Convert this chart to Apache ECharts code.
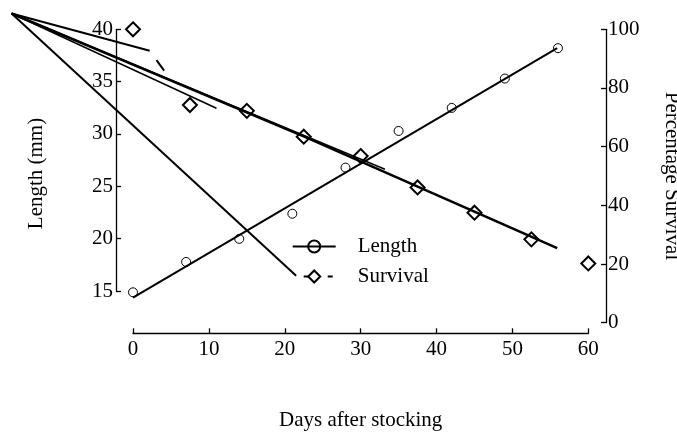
<!DOCTYPE html>
<html>
<head>
<meta charset="utf-8">
<script src="https://cdn.jsdelivr.net/npm/echarts@6/dist/echarts.min.js"></script>
<style>html,body{margin:0;padding:0;background:#fff;}#c{width:677px;height:432px;}</style>
</head>
<body>
<div id="c"></div>
<script>
// ---- data (days after stocking; length in mm; survival in %) ----
const xTicks = [0, 10, 20, 30, 40, 50, 60];
const lengthTicks = [15, 20, 25, 30, 35, 40];
const survivalTicks = [0, 20, 40, 60, 80, 100];

const lengthDays = [0, 7, 14, 21, 28, 35, 42, 49, 56];
const lengthMm = [14.9, 17.8, 20.0, 22.4, 26.8, 30.3, 32.5, 35.3, 38.2];

const survivalDays = [0, 7.5, 15, 22.5, 30, 37.5, 45, 52.5, 60];
const survivalPct = [100, 74.2, 72.2, 63.4, 56.8, 46.1, 37.5, 28.4, 20.2];

const lengthFitDays = [0, 55.9];
const lengthFitMm = [14.4, 38.2];

const survivalFitDays = [-16.0, 22.5, 55.9];
const survivalFitPct = [105.4, 63.5, 25.4];

// stray strokes of the original figure, all leaving the same point
const strayFromDay = -16.0;
const strayFromPct = 105.4;
const strayToDays = [2.2, 11.0, 33.2, 21.5];
const strayToPct = [92.7, 73.1, 52.3, 16.0];

const survivalDashDays = [3.1, 4.1];
const survivalDashPct = [89.5, 85.9];

// ---- chart ----
const FONT = 'Liberation Serif';
const BLACK = '#000';
const W = 677, H = 432;
const zip = (a, b) => a.map((v, i) => [v, b[i]]);

// geometry of the main plotting frame
const G = { left: 133, right: 88.7, top: 29.3, bottom: 109.3 };
const plotW = W - G.left - G.right;
const plotH = H - G.top - G.bottom;
const xMax = xTicks[xTicks.length - 1];
const yMax = survivalTicks[survivalTicks.length - 1];
// wider frame with the same scale, so strokes reaching past day 0 are not cut
const extMinX = -16.5, extMaxY = 107;
const pxPerDay = plotW / (xMax - xTicks[0]);
const pxPerPct = plotH / (yMax - survivalTicks[0]);
const G2 = {
  left: G.left + extMinX * pxPerDay,
  right: G.right,
  top: G.top - (extMaxY - yMax) * pxPerPct,
  bottom: G.bottom
};
const xAxisY = 333.3;    // detached bottom axis
const rightAxisX = 606;  // detached right axis
const leftAxisX = 116;   // detached left axis

const strayWidths = [2, 1.5, 1.5, 2];
const straySeries = strayToDays.map((d, i) => ({
  type: 'line', xAxisIndex: 2, yAxisIndex: 3, silent: true,
  symbol: 'none', data: [[strayFromDay, strayFromPct], [d, strayToPct[i]]],
  lineStyle: { color: BLACK, width: strayWidths[i] }, z: 2
}));

const labelStyle = { fontFamily: FONT, fontSize: 21, color: BLACK };
const axisLineStyle = { color: BLACK, width: 1.3 };
const noBounds = { outerBoundsMode: 'none', containLabel: false };
const visibleLine = { show: true, onZero: false, lineStyle: axisLineStyle };
const insideTick = { show: true, inside: true, length: 5, lineStyle: axisLineStyle };

const option = {
  animation: false,
  backgroundColor: '#fff',
  grid: [
    { ...G, ...noBounds },                                                          // 0 data
    { left: leftAxisX, width: 50, top: G.top, bottom: 141, ...noBounds },          // 1 left axis
    { ...G2, ...noBounds },                                                         // 2 stray strokes
    { left: G.left, right: G.right, bottom: H - xAxisY, height: 20, ...noBounds },  // 3 x axis
    { left: 400, right: W - rightAxisX, top: G.top, bottom: G.bottom, ...noBounds } // 4 right axis
  ],
  xAxis: [
    { gridIndex: 0, type: 'value', show: false, min: xTicks[0], max: xMax },
    { gridIndex: 1, type: 'value', show: false, min: 0, max: 1 },
    { gridIndex: 2, type: 'value', show: false, min: extMinX, max: xMax },
    {
      gridIndex: 3, type: 'value', min: xTicks[0], max: xMax, interval: 10, position: 'bottom',
      axisLine: visibleLine, axisTick: insideTick,
      axisLabel: { ...labelStyle, margin: 6 },
      splitLine: { show: false },
      name: 'Days after stocking', nameLocation: 'middle', nameGap: 77,
      nameTextStyle: labelStyle
    },
    { gridIndex: 4, type: 'value', show: false, min: 0, max: 1 }
  ],
  yAxis: [
    {
      gridIndex: 0, type: 'value', min: 12, max: 40, position: 'left',
      axisLine: { show: false }, axisTick: { show: false }, axisLabel: { show: false },
      splitLine: { show: false },
      name: 'Length (mm)', nameLocation: 'middle', nameGap: 86,
      nameTextStyle: { ...labelStyle, padding: [0, 0, 0, 5] }
    },
    { gridIndex: 0, type: 'value', show: false, min: survivalTicks[0], max: yMax, position: 'right' },
    {
      gridIndex: 1, type: 'value', min: lengthTicks[0], max: lengthTicks[lengthTicks.length - 1],
      interval: 5, position: 'left',
      axisLine: visibleLine, axisTick: insideTick,
      axisLabel: { ...labelStyle, margin: 3 },
      splitLine: { show: false }
    },
    { gridIndex: 2, type: 'value', show: false, min: survivalTicks[0], max: extMaxY },
    { gridIndex: 3, type: 'value', show: false, min: 0, max: 1 },
    {
      gridIndex: 4, type: 'value', min: survivalTicks[0], max: yMax, interval: 20, position: 'right',
      axisLine: visibleLine, axisTick: insideTick,
      axisLabel: { ...labelStyle, margin: 2 },
      splitLine: { show: false },
      name: 'Percentage Survival', nameLocation: 'middle', nameGap: 55, nameRotate: -90,
      nameTextStyle: labelStyle
    }
  ],
  legend: {
    left: 291.7, top: 236, orient: 'vertical', padding: 0,
    itemWidth: 43, itemHeight: 15, itemGap: 9, selectedMode: false,
    textStyle: { ...labelStyle, padding: [0, 0, 0, 17] },
    data: [
      { name: 'Length', lineStyle: { opacity: 1, width: 2, color: BLACK, type: 'solid' } },
      { name: 'Survival', lineStyle: { opacity: 1, width: 2, color: BLACK, type: [5, 19], dashOffset: 13 } }
    ]
  },
  series: [
    {
      name: 'Length fit', type: 'line', xAxisIndex: 0, yAxisIndex: 0, silent: true,
      symbol: 'none', data: zip(lengthFitDays, lengthFitMm),
      lineStyle: { color: BLACK, width: 2 }, z: 2
    },
    {
      name: 'Survival fit', type: 'line', xAxisIndex: 2, yAxisIndex: 3, silent: true,
      symbol: 'none', data: zip(survivalFitDays, survivalFitPct),
      lineStyle: { color: BLACK, width: 2.6 }, z: 2
    },
    ...straySeries,
    {
      name: 'Survival dash', type: 'line', xAxisIndex: 0, yAxisIndex: 1, silent: true,
      symbol: 'none', data: zip(survivalDashDays, survivalDashPct),
      lineStyle: { color: BLACK, width: 2 }, z: 2
    },
    {
      name: 'Length', type: 'line', xAxisIndex: 0, yAxisIndex: 0, clip: false,
      data: zip(lengthDays, lengthMm),
      symbol: 'circle', symbolSize: 9, showSymbol: true, showAllSymbol: true,
      lineStyle: { opacity: 0, color: BLACK, width: 2 },
      itemStyle: { color: 'rgba(0,0,0,0)', borderColor: BLACK, borderWidth: 1 }, z: 3
    },
    {
      name: 'Survival', type: 'line', xAxisIndex: 0, yAxisIndex: 1, clip: false,
      data: zip(survivalDays, survivalPct),
      symbol: 'diamond', symbolSize: 14, showSymbol: true, showAllSymbol: true,
      lineStyle: { opacity: 0, color: BLACK, width: 2 },
      itemStyle: { color: 'rgba(0,0,0,0)', borderColor: BLACK, borderWidth: 2 }, z: 3
    }
  ]
};

const chart = echarts.init(document.getElementById('c'), null, { renderer: 'canvas' });
chart.setOption(option);
</script>
</body>
</html>
